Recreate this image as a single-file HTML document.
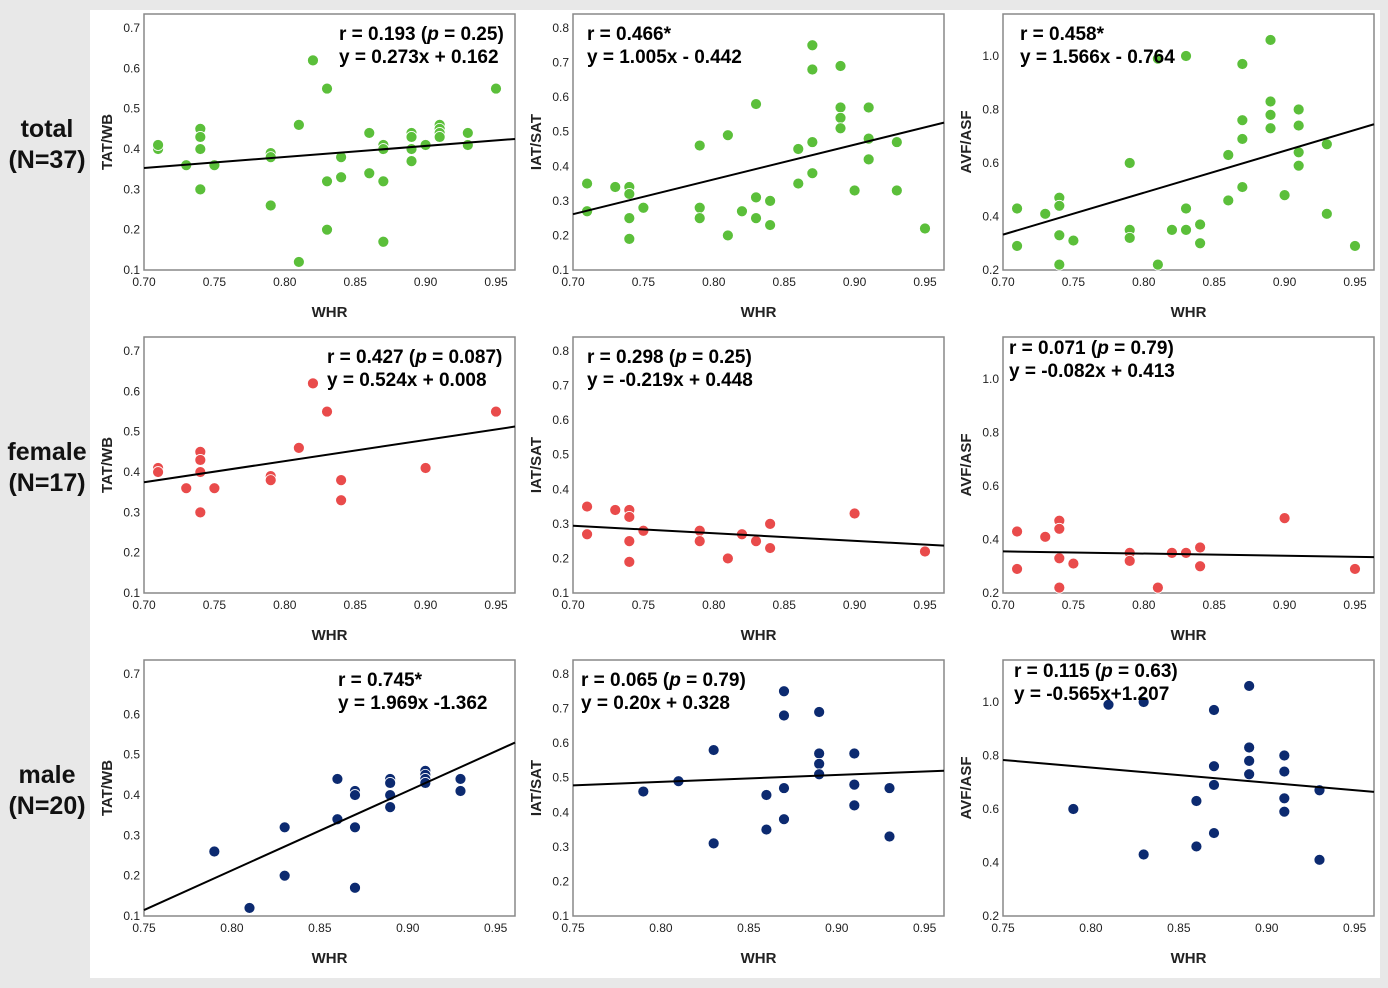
<!DOCTYPE html>
<html><head><meta charset="utf-8">
<style>
html,body{margin:0;padding:0;background:#e8e8e8;}
svg{display:block;font-family:"Liberation Sans",Arial,sans-serif;}
</style></head>
<body>
<svg id="chart" width="1388" height="988" viewBox="0 0 1388 988">
<rect x="0" y="0" width="1388" height="988" fill="#e8e8e8"/>
<rect x="90" y="10" width="1290" height="968" fill="#ffffff"/>
<g font-weight="bold" font-size="25" fill="#111" text-anchor="middle">
<text x="47" y="137">total</text>
<text x="47" y="168">(N=37)</text>
<text x="47" y="460">female</text>
<text x="47" y="491">(N=17)</text>
<text x="47" y="783">male</text>
<text x="47" y="814">(N=20)</text>
</g>
</svg>
<script>
// ---- data ----
const totalWHR = [0.71,0.71,0.73,0.74,0.74,0.74,0.74,0.75,0.79,0.79,0.79,0.81,0.81,0.82,0.83,0.83,0.83,0.84,0.84,0.86,0.86,0.87,0.87,0.87,0.87,0.89,0.89,0.89,0.89,0.90,0.91,0.91,0.91,0.91,0.93,0.93,0.95];
const totalTAT = [0.40,0.41,0.36,0.45,0.43,0.40,0.30,0.36,0.39,0.38,0.26,0.46,0.12,0.62,0.55,0.32,0.20,0.38,0.33,0.44,0.34,0.41,0.40,0.32,0.17,0.44,0.43,0.40,0.37,0.41,0.46,0.45,0.44,0.43,0.44,0.41,0.55];
const totalIATx = [0.71,0.71,0.73,0.74,0.74,0.74,0.74,0.75,0.79,0.79,0.79,0.81,0.81,0.82,0.83,0.83,0.83,0.84,0.84,0.86,0.86,0.87,0.87,0.87,0.87,0.89,0.89,0.89,0.89,0.90,0.91,0.91,0.91,0.93,0.93,0.95];
const totalIAT = [0.35,0.27,0.34,0.34,0.32,0.25,0.19,0.28,0.46,0.28,0.25,0.49,0.20,0.27,0.58,0.31,0.25,0.30,0.23,0.45,0.35,0.75,0.68,0.47,0.38,0.69,0.57,0.54,0.51,0.33,0.57,0.48,0.42,0.47,0.33,0.22];
const totalAVF = [0.43,0.29,0.41,0.47,0.44,0.33,0.22,0.31,0.60,0.35,0.32,0.99,0.22,0.35,1.00,0.43,0.35,0.37,0.30,0.63,0.46,0.97,0.76,0.69,0.51,1.06,0.83,0.78,0.73,0.48,0.80,0.74,0.64,0.59,0.67,0.41,0.29];
const femaleWHR = [0.71,0.71,0.73,0.74,0.74,0.74,0.74,0.75,0.79,0.79,0.81,0.82,0.83,0.84,0.84,0.90,0.95];
const femaleTATx = [0.71,0.71,0.73,0.74,0.74,0.74,0.74,0.75,0.79,0.79,0.81,0.82,0.83,0.84,0.84,0.90,0.95];
const femaleTAT = [0.41,0.40,0.36,0.45,0.43,0.40,0.30,0.36,0.39,0.38,0.46,0.62,0.55,0.38,0.33,0.41,0.55];
const femaleIAT = [0.35,0.27,0.34,0.34,0.32,0.25,0.19,0.28,0.28,0.25,0.20,0.27,0.25,0.30,0.23,0.33,0.22];
const femaleAVF = [0.43,0.29,0.41,0.47,0.44,0.33,0.22,0.31,0.35,0.32,0.22,0.35,0.35,0.37,0.30,0.48,0.29];
const maleWHR = [0.79,0.81,0.83,0.83,0.86,0.86,0.87,0.87,0.87,0.87,0.89,0.89,0.89,0.89,0.91,0.91,0.91,0.91,0.93,0.93];
const maleTAT = [0.26,0.12,0.32,0.20,0.44,0.34,0.41,0.40,0.32,0.17,0.44,0.43,0.40,0.37,0.46,0.45,0.44,0.43,0.44,0.41];
const maleIATx = [0.79,0.81,0.83,0.83,0.86,0.86,0.87,0.87,0.87,0.87,0.89,0.89,0.89,0.89,0.91,0.91,0.91,0.93,0.93];
const maleIAT = [0.46,0.49,0.58,0.31,0.45,0.35,0.75,0.68,0.47,0.38,0.69,0.57,0.54,0.51,0.57,0.48,0.42,0.47,0.33];
const maleAVF = [0.60,0.99,1.00,0.43,0.63,0.46,0.97,0.76,0.69,0.51,1.06,0.83,0.78,0.73,0.80,0.74,0.64,0.59,0.67,0.41];
const slopes = [0.273,1.005,1.566,0.524,-0.219,-0.082,1.969,0.20,-0.565];
const intercepts = [0.162,-0.442,-0.764,0.008,0.448,0.413,-1.362,0.328,1.207];
const xTicksA = ["0.70","0.75","0.80","0.85","0.90","0.95"];
const xTicksB = ["0.75","0.80","0.85","0.90","0.95"];
const tatTicks = ["0.1","0.2","0.3","0.4","0.5","0.6","0.7"];
const iatTicks = ["0.1","0.2","0.3","0.4","0.5","0.6","0.7","0.8"];
const avfTicks = ["0.2","0.4","0.6","0.8","1.0"];

const NS="http://www.w3.org/2000/svg";
const svg=document.getElementById('chart');
function mk(tag,attrs,parent){const e=document.createElementNS(NS,tag);for(const k in attrs)e.setAttribute(k,attrs[k]);(parent||svg).appendChild(e);return e;}

const colL=[144,573,1003], colR=[515,944,1374], rowT=[14,337,660], H=256;
const colors=["#5bbf3a","#e94b4b","#0c2a70"];
const yInfo=[
 {title:"TAT/WB",min:0.1,max:0.735,ticks:tatTicks},
 {title:"IAT/SAT",min:0.1,max:0.8405,ticks:iatTicks},
 {title:"AVF/ASF",min:0.2,max:1.157,ticks:avfTicks}];
const panels=[
 [totalWHR,totalTAT],[totalIATx,totalIAT],[totalWHR,totalAVF],
 [femaleTATx,femaleTAT],[femaleWHR,femaleIAT],[femaleWHR,femaleAVF],
 [maleWHR,maleTAT],[maleIATx,maleIAT],[maleWHR,maleAVF]];
const ann=[
 ["r = 0.193 (","p"," = 0.25)","y = 0.273x + 0.162",339,33],
 ["r = 0.466*","","","y = 1.005x - 0.442",587,33],
 ["r = 0.458*","","","y = 1.566x - 0.764",1020,33],
 ["r = 0.427 (","p"," = 0.087)","y = 0.524x + 0.008",327,356],
 ["r = 0.298 (","p"," = 0.25)","y = -0.219x + 0.448",587,356],
 ["r = 0.071 (","p"," = 0.79)","y = -0.082x + 0.413",1009,347],
 ["r = 0.745*","","","y = 1.969x -1.362",338,679],
 ["r = 0.065 (","p"," = 0.79)","y = 0.20x + 0.328",581,679],
 ["r = 0.115 (","p"," = 0.63)","y = -0.565x+1.207",1014,670]];

for(let i=0;i<9;i++){
  const r=Math.floor(i/3), c=i%3;
  const L=colL[c], R=colR[c], T=rowT[r], B=T+H;
  const yi=yInfo[c];
  const xmin = r===2?0.75:0.70, xmax = r===2?0.961:0.9635;
  const xs=v=>L+(v-xmin)/(xmax-xmin)*(R-L);
  const ys=v=>B-(v-yi.min)/(yi.max-yi.min)*H;
  const g=mk('g',{});
  
  
  const box=mk('rect',{x:L,y:T,width:R-L,height:H,fill:'#fff',stroke:'#888','stroke-width':1.5},g);
  
  
  yi.ticks.forEach(t=>{
    const tx=mk('text',{x:L-4,y:ys(parseFloat(t))+4,'text-anchor':'end','font-size':12,fill:'#222'},g);
    tx.textContent=t;
    
    
  });
  const xt = r===2?xTicksB:xTicksA;
  xt.forEach(t=>{
    const tx=mk('text',{x:xs(parseFloat(t)),y:B+16,'text-anchor':'middle','font-size':12,fill:'#222'},g);
    tx.textContent=t;
    
    
  });
  const xl=mk('text',{x:(L+R)/2,y:B+47,'text-anchor':'middle','font-size':15,'font-weight':'bold',fill:'#222'},g);
  xl.textContent='WHR';
  
  
  const cy=(T+B)/2, cx=L-32;
  const yl=mk('text',{x:cx,y:cy,'text-anchor':'middle','font-size':15,'font-weight':'bold',fill:'#222',transform:`rotate(-90 ${cx} ${cy})`},g);
  yl.textContent=yi.title;
  
  
  const [px,py]=panels[i];
  for(let k=0;k<py.length;k++){
    const d=mk('circle',{cx:xs(px[k]),cy:ys(py[k]),r:5.5,fill:colors[r],stroke:'#fff','stroke-width':0.8},g);
    
    
  }
  let x0=xmin, x1=xmax;
  let y0=slopes[i]*x0+intercepts[i], y1=slopes[i]*x1+intercepts[i];
  if(y0<yi.min){x0=(yi.min-intercepts[i])/slopes[i];y0=yi.min;}
  if(y1>yi.max){x1=(yi.max-intercepts[i])/slopes[i];y1=yi.max;}
  const ln=mk('line',{x1:xs(x0),y1:ys(y0),x2:xs(x1),y2:ys(y1),stroke:'#000','stroke-width':2},g);
  
  
  const a=ann[i];
  const t1=mk('text',{x:a[4],y:a[5]+7,'font-size':19,'font-weight':'bold',fill:'#000'},g);
  
  
  const s1=mk('tspan',{},t1); s1.textContent=a[0];
  if(a[1]){const s2=mk('tspan',{'font-style':'italic'},t1); s2.textContent=a[1]; const s3=mk('tspan',{},t1); s3.textContent=a[2];}
  const t2=mk('text',{x:a[4],y:a[5]+30,'font-size':19,'font-weight':'bold',fill:'#000'},g);
  t2.textContent=a[3];
  
  
}
</script>
</body></html>
